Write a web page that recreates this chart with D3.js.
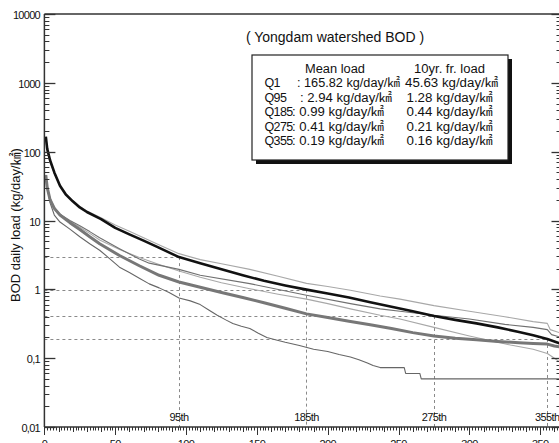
<!DOCTYPE html>
<html>
<head>
<meta charset="utf-8">
<script src="https://cdn.jsdelivr.net/npm/d3@7"></script>
<style>
  html, body { margin: 0; padding: 0; background: #fff; }
  svg { display: block; }
  text { font-family: "Liberation Sans", "Noto Sans CJK KR", sans-serif; fill: #111; }
  text.narrow { font-family: "Liberation Sans Narrow", "Liberation Sans", sans-serif; }
</style>
</head>
<body>
<svg id="chart" width="559" height="443"></svg>
<script>
// Flow-duration load curves, Yongdam watershed BOD (kg/day/㎢ by exceedance day)

// mean load curve
const meanDays = [1, 2, 4, 7, 11, 15, 20, 25, 30, 40, 50, 60, 70, 80, 95, 110, 125, 140, 155, 170, 185, 200, 215, 230, 245, 260, 275, 290, 305, 320, 335, 345, 355, 360, 365];
const meanVals = [165.82, 110, 75, 50, 32, 24, 19, 15.5, 13.3, 10.5, 7.8, 6.3, 5.1, 4.1, 2.94, 2.4, 1.95, 1.6, 1.33, 1.14, 0.99, 0.87, 0.76, 0.65, 0.56, 0.48, 0.41, 0.36, 0.32, 0.28, 0.24, 0.215, 0.19, 0.175, 0.16];

// 10-year frequency load curve
const freqDays = [1, 2, 4, 7, 11, 18, 25, 32, 39, 53, 67, 81, 95, 110, 125, 140, 155, 170, 185, 200, 215, 230, 245, 260, 275, 290, 305, 320, 335, 345, 355, 360, 365];
const freqVals = [45.63, 30, 20, 15, 12, 9.3, 7.4, 5.8, 4.6, 3.1, 2.2, 1.6, 1.28, 1.07, 0.9, 0.76, 0.64, 0.53, 0.44, 0.39, 0.345, 0.305, 0.27, 0.235, 0.21, 0.195, 0.185, 0.175, 0.167, 0.163, 0.16, 0.15, 0.145];

// upper thin curve
const upperDays = [1, 2, 4, 7, 11, 15, 20, 25, 30, 40, 50, 60, 70, 80, 95, 110, 125, 145, 165, 185, 200, 216, 237, 251, 275, 300, 325, 345, 355, 357, 365];
const upperVals = [150, 100, 70, 48, 32, 25, 19.5, 16, 13.8, 11, 8.6, 7.0, 5.6, 4.5, 3.3, 2.7, 2.35, 1.95, 1.55, 1.22, 1.1, 0.97, 0.8, 0.72, 0.58, 0.48, 0.4, 0.34, 0.32, 0.26, 0.23];

// middle thin curve (dark)
const midDays = [1, 2, 4, 7, 11, 18, 25, 32, 39, 53, 67, 74, 95, 110, 145, 185, 216, 237, 251, 275, 300, 325, 345, 355, 358, 365];
const midVals = [46, 31, 21, 15.5, 12.3, 10, 8.4, 6.9, 5.6, 3.9, 2.75, 2.4, 1.95, 1.6, 1.21, 0.82, 0.62, 0.52, 0.48, 0.42, 0.37, 0.31, 0.28, 0.26, 0.22, 0.2];

// middle thin curve (light)
const lowDays = [1, 2, 4, 7, 11, 18, 25, 32, 39, 53, 67, 81, 95, 110, 125, 145, 165, 185, 200, 216, 237, 251, 275, 300, 329, 345, 355, 360, 365];
const lowVals = [40, 28, 19, 14.5, 12, 9.8, 8, 6.5, 5.2, 3.8, 2.9, 2.3, 1.85, 1.5, 1.25, 1.02, 0.85, 0.72, 0.62, 0.52, 0.42, 0.37, 0.28, 0.21, 0.155, 0.135, 0.117, 0.1, 0.085];

// lowest thin curve
const minDays = [1, 2, 4, 7, 11, 18, 25, 32, 39, 46, 53, 60, 67, 74, 81, 88, 95, 103, 110, 116, 122, 128, 133, 139, 145, 151, 157, 163, 170, 180, 190, 200, 208, 216, 222, 228, 232, 237, 254, 255, 265, 266, 365];
const minVals = [45, 32, 18, 12, 9.5, 7.5, 5.8, 4.6, 3.7, 2.8, 2.1, 1.75, 1.45, 1.2, 1.05, 0.9, 0.75, 0.68, 0.6, 0.5, 0.42, 0.36, 0.32, 0.29, 0.27, 0.23, 0.2, 0.185, 0.17, 0.153, 0.135, 0.125, 0.113, 0.104, 0.095, 0.085, 0.078, 0.073, 0.073, 0.06, 0.06, 0.05, 0.05];

// duration quantiles and their loads
const qLabels = ["Q1", "Q95", "Q185", "Q275", "Q355"];
const qDays = [1, 95, 185, 275, 355];
const meanLoads = [165.82, 2.94, 0.99, 0.41, 0.19];
const freqLoads = [45.63, 1.28, 0.44, 0.21, 0.16];

const yTickVals = [0.01, 0.1, 1, 10, 100, 1000, 10000];
const yTickLabels = ["0,01", "0,1", "1", "10", "100", "1000", "10000"];
const xTickVals = [0, 50, 100, 150, 200, 250, 300, 350];

const svg = d3.select("#chart");
const x = d3.scaleLinear().domain([0, 365]).range([44.4, 561.5]);
const y = d3.scaleLog().domain([0.01, 10000]).range([427, 14]);

const plotLeft = x(0), plotRight = x(365), plotTop = y(10000), plotBottom = y(0.01);

// reference lines at the quantile days
const refG = svg.append("g").attr("stroke", "#8a8a8a").attr("stroke-width", 1)
  .attr("stroke-dasharray", "3,3").attr("fill", "none");
qDays.slice(1).forEach((d, i) => {
  const v = meanLoads[i + 1];
  refG.append("line").attr("x1", plotLeft).attr("x2", x(d))
    .attr("y1", Math.round(y(v)) + 0.5).attr("y2", Math.round(y(v)) + 0.5);
  refG.append("line").attr("x1", Math.round(x(d)) + 0.5).attr("x2", Math.round(x(d)) + 0.5)
    .attr("y1", y(v)).attr("y2", plotBottom);
  svg.append("text").attr("x", x(d)).attr("y", 421).attr("text-anchor", "middle")
    .attr("font-size", 11).attr("letter-spacing", -0.6).text(d + "th");
});

// curves
const line = d3.line().x(d => x(d[0])).y(d => y(d[1]));
const series = [
  { days: minDays, vals: minVals, color: "#666", width: 1.1 },
  { days: lowDays, vals: lowVals, color: "#a8a8a8", width: 1.1 },
  { days: upperDays, vals: upperVals, color: "#a8a8a8", width: 1.1 },
  { days: midDays, vals: midVals, color: "#707070", width: 1.1 },
  { days: freqDays, vals: freqVals, color: "#777", width: 3 },
  { days: meanDays, vals: meanVals, color: "#111", width: 2.6 }
];
series.forEach(s => {
  svg.append("path").datum(s.days.map((d, i) => [d, s.vals[i]]))
    .attr("fill", "none").attr("stroke", s.color).attr("stroke-width", s.width)
    .attr("stroke-linejoin", "round").attr("d", line);
});

// axes frame
const axisG = svg.append("g").attr("stroke", "#333").attr("fill", "none");
axisG.append("line").attr("x1", plotLeft).attr("x2", plotLeft).attr("y1", plotTop).attr("y2", plotBottom).attr("stroke-width", 1.5);
axisG.append("line").attr("x1", plotLeft).attr("x2", 559).attr("y1", plotTop).attr("y2", plotTop).attr("stroke-width", 1.5);
axisG.append("line").attr("x1", plotLeft).attr("x2", 559).attr("y1", plotBottom).attr("y2", plotBottom).attr("stroke-width", 1.5);

// log ticks on left (inward) and right (inward)
const minorVals = [];
for (let e = -2; e < 4; e++) for (let m = 2; m <= 9; m++) minorVals.push(m * Math.pow(10, e));
minorVals.forEach(v => {
  const yy = Math.round(y(v)) + 0.5;
  axisG.append("line").attr("x1", plotLeft).attr("x2", plotLeft + 5).attr("y1", yy).attr("y2", yy).attr("stroke-width", 1);
  axisG.append("line").attr("x1", plotRight).attr("x2", plotRight - 5).attr("y1", yy).attr("y2", yy).attr("stroke-width", 1);
});
yTickVals.forEach((v, i) => {
  const yy = Math.round(y(v)) + 0.5;
  axisG.append("line").attr("x1", plotLeft).attr("x2", plotLeft + 11).attr("y1", yy).attr("y2", yy).attr("stroke-width", 1.3);
  axisG.append("line").attr("x1", plotRight).attr("x2", plotRight - 10).attr("y1", yy).attr("y2", yy).attr("stroke-width", 1.3);
  svg.append("text").attr("x", 40).attr("y", yy + 4).attr("text-anchor", "end")
    .attr("font-size", 11).attr("letter-spacing", -0.7).text(yTickLabels[i]);
});

// day ticks on bottom (outward)
d3.range(0, 366, 2).forEach(d => {
  const xx = Math.round(x(d)) + 0.5;
  const len = d % 50 === 0 ? 8 : (d % 10 === 0 ? 5 : 3.5);
  axisG.append("line").attr("x1", xx).attr("x2", xx).attr("y1", plotBottom).attr("y2", plotBottom + len).attr("stroke-width", 1);
});
xTickVals.forEach(d => {
  svg.append("text").attr("x", x(d)).attr("y", 448).attr("text-anchor", "middle")
    .attr("font-size", 11).attr("letter-spacing", -0.6).text(d);
});

// y axis title
svg.append("text").attr("transform", "translate(20,225) rotate(-90)")
  .attr("text-anchor", "middle").attr("font-size", 13).text("BOD daily load (kg/day/㎢)");

// chart title
svg.append("text").attr("x", 335).attr("y", 42).attr("text-anchor", "middle")
  .attr("font-size", 14).text("( Yongdam watershed BOD )");

// legend box with shadow
const box = { x: 252, y: 55, w: 256, h: 105 };
svg.append("rect").attr("x", box.x + 4).attr("y", box.y + 4).attr("width", box.w).attr("height", box.h).attr("fill", "#111");
svg.append("rect").attr("x", box.x).attr("y", box.y).attr("width", box.w).attr("height", box.h)
  .attr("fill", "#fff").attr("stroke", "#222").attr("stroke-width", 1.2);

// legend text, each run fitted to its column width
const legG = svg.append("g").attr("font-size", 12.5);
const fitText = (g, tx, ty, str, len) => g.append("text").attr("x", tx).attr("y", ty)
  .attr("textLength", len).attr("lengthAdjust", "spacingAndGlyphs").text(str);
fitText(legG, 305, 73, "Mean load", 60);
fitText(legG, 414, 73, "10yr. fr. load", 71);
const colonX = [297, 300, 292, 292, 292];
const meanWidth = [103, 92, 92, 92, 92];
const freqWidth = [93, 86, 86, 86, 86];
const freqX = [405, 406.5, 406.5, 406.5, 406.5];
qLabels.forEach((q, i) => {
  const yy = 87 + i * 14.6;
  legG.append("text").attr("class", "narrow").attr("x", 264.5).attr("y", yy)
    .attr("letter-spacing", -0.6).text(q);
  fitText(legG, colonX[i], yy, ": " + meanLoads[i] + " kg/day/㎢", meanWidth[i]);
  fitText(legG, freqX[i], yy, freqLoads[i] + " kg/day/㎢", freqWidth[i]);
});
</script>
</body>
</html>
